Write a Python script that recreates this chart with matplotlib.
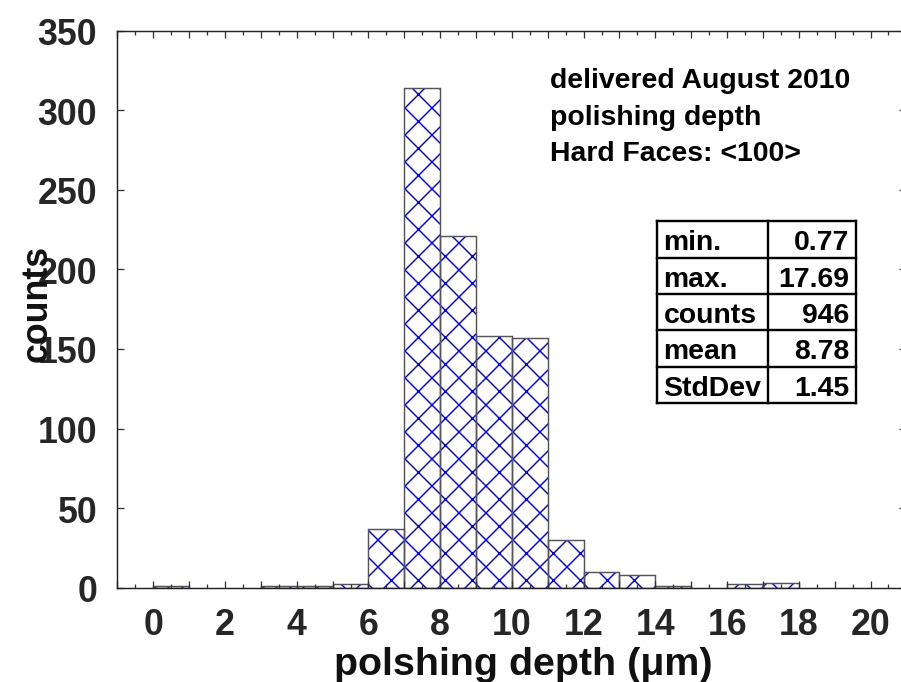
import matplotlib
matplotlib.use("Agg")
import matplotlib.pyplot as plt
from matplotlib.ticker import MultipleLocator, FuncFormatter

# ---- data ----
bin_left = [0, 3, 4, 5, 6, 7, 8, 9, 10, 11, 12, 13, 14, 16, 17]
counts = [1, 1, 1, 2, 37, 314, 221, 158, 157, 30, 10, 8, 1, 2, 3]
bin_width = 1.0

stat_names = ["min.", "max.", "counts", "mean", "StdDev"]
stat_values = ["0.77", "17.69", "946", "8.78", "1.45"]

annotation_lines = ["delivered August 2010", "polishing depth", "Hard Faces: <100>"]
xlabel_text = "polshing depth (\u03bcm)"
ylabel_text = "counts"

DPI = 81
S = 132.0 / DPI   # sizes below were tuned for 132 dpi


def pt(v):
    return v * S


plt.rcParams['font.family'] = ['Liberation Sans', 'DejaVu Sans']
plt.rcParams['hatch.linewidth'] = pt(0.8)

fig = plt.figure(figsize=(901 / DPI, 683 / DPI), dpi=DPI)
ax = fig.add_axes([0.1303, 0.1381, 0.8757, 0.8155])

# hatched fill (blue)
ax.bar(bin_left, counts, width=bin_width, align='edge', facecolor='white',
       edgecolor='#0000ff', hatch='x', linewidth=0)
# outlines
ax.bar(bin_left, counts, width=bin_width, align='edge', fill=False,
       edgecolor='#555555', linewidth=pt(0.8))

ax.set_xlim(-1, 21)
ax.set_ylim(0, 350)

ax.xaxis.set_major_locator(MultipleLocator(1))
ax.xaxis.set_minor_locator(MultipleLocator(0.5))
ax.xaxis.set_major_formatter(FuncFormatter(
    lambda v, p: f"{int(round(v))}" if (round(v) % 2 == 0 and 0 <= v <= 20) else ""))
ax.yaxis.set_major_locator(MultipleLocator(50))

ax.tick_params(axis='both', which='both', direction='in', top=True, right=True,
               color='#333333')
ax.tick_params(axis='both', which='major', length=pt(4.0), width=pt(0.7))
ax.tick_params(axis='both', which='minor', length=pt(2.2), width=pt(0.7))
ax.tick_params(axis='x', which='major', pad=pt(10.5))
ax.tick_params(axis='y', which='major', pad=pt(11))

for lbl in ax.get_xticklabels() + ax.get_yticklabels():
    lbl.set_fontsize(pt(19.5))
    lbl.set_fontweight('bold')
    lbl.set_color('#262626')

for sp in ax.spines.values():
    sp.set_linewidth(pt(0.8))
    sp.set_color('#222222')

ax.set_xlabel(xlabel_text, fontsize=pt(21.5), fontweight='bold', color='#111111')
ax.xaxis.set_label_coords(0.515, -0.104)
ax.set_ylabel(ylabel_text, fontsize=pt(19.5), fontweight='bold', color='#111111')
ax.yaxis.set_label_coords(-0.079, 0.513)

# annotation text
ann_y = [0.899, 0.8325, 0.768]
for txt, yy in zip(annotation_lines, ann_y):
    ax.text(0.548, yy, txt, transform=ax.transAxes, fontsize=pt(15.5),
            fontweight='bold', ha='left', va='baseline', color='black')

# stats table
tx0, tx1, tx2 = 0.684, 0.8246, 0.936
ty_top, ty_bot = 0.658, 0.3316
nrows = len(stat_names)
rh = (ty_top - ty_bot) / nrows
lw = pt(1.3)
for i in range(nrows + 1):
    yy = ty_top - i * rh
    ax.plot([tx0, tx2], [yy, yy], transform=ax.transAxes, color='black',
            lw=lw, solid_capstyle='projecting', clip_on=False)
for xx in (tx0, tx1, tx2):
    ax.plot([xx, xx], [ty_bot, ty_top], transform=ax.transAxes, color='black',
            lw=lw, solid_capstyle='projecting', clip_on=False)
for i, (nm, val) in enumerate(zip(stat_names, stat_values)):
    yc = ty_top - (i + 0.5) * rh
    ax.text(tx0 + 0.008, yc, nm, transform=ax.transAxes, fontsize=pt(15.5),
            fontweight='bold', ha='left', va='center_baseline')
    ax.text(tx2 - 0.008, yc, val, transform=ax.transAxes, fontsize=pt(15.5),
            fontweight='bold', ha='right', va='center_baseline')

fig.savefig("out.png", dpi=DPI)
